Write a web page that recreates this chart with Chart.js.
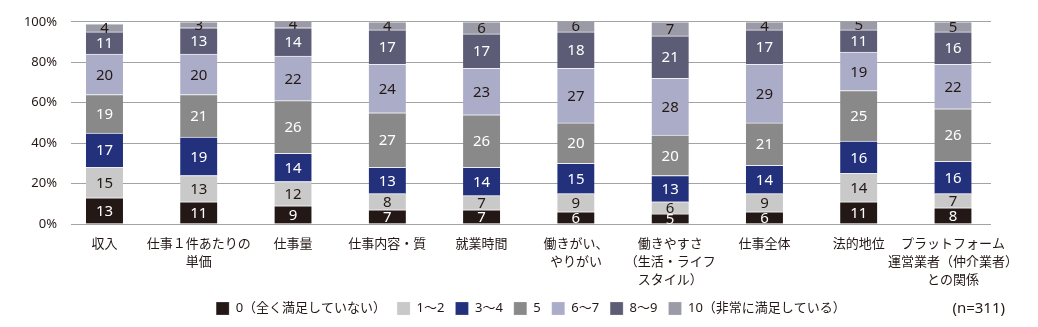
<!DOCTYPE html>
<html lang="ja">
<head>
<meta charset="utf-8">
<script src="https://cdn.jsdelivr.net/npm/chart.js@4.4.1/dist/chart.umd.min.js"></script>
<style>
  html, body { margin: 0; padding: 0; background: #fff; }
  #wrap { position: relative; width: 1038px; height: 327px; }
  #note { position: absolute; right: 33px; top: 297px; font: 15px 'Noto Sans', 'Noto Sans CJK JP', sans-serif; color: #231815; }
</style>
</head>
<body>
<div id="wrap">
  <canvas id="chart" width="1038" height="327"></canvas>
  <div id="note">(n=311)</div>
</div>
<script>
// ===== Data =====
const CATEGORIES = [
  ["収入"],
  ["仕事１件あたりの", "単価"],
  ["仕事量"],
  ["仕事内容・質"],
  ["就業時間"],
  ["働きがい、", "やりがい"],
  ["働きやすさ", "（生活・ライフ", "スタイル）"],
  ["仕事全体"],
  ["法的地位"],
  ["プラットフォーム", "運営業者（仲介業者）", "との関係"]
];
const SERIES_LABELS = ["0（全く満足していない）", "1～2", "3～4", "5", "6～7", "8～9", "10（非常に満足している）"];

// percent per satisfaction band, one array per band, in category order
const S0    = [13, 11,  9,  7,  7,  6,  5,  6, 11,  8];
const S1_2  = [15, 13, 12,  8,  7,  9,  6,  9, 14,  7];
const S3_4  = [17, 19, 14, 13, 14, 15, 13, 14, 16, 16];
const S5    = [19, 21, 26, 27, 26, 20, 20, 21, 25, 26];
const S6_7  = [20, 20, 22, 24, 23, 27, 28, 29, 19, 22];
const S8_9  = [11, 13, 14, 17, 17, 18, 21, 17, 11, 16];
const S10   = [ 4,  3,  4,  4,  6,  6,  7,  4,  5,  5];

const Y_TICKS = [0, 20, 40, 60, 80, 100];

const COLORS = ["#231815", "#c9c9ca", "#23307b", "#898989", "#abadc8", "#5c5c77", "#9b9ba8"];
const LABEL_COLORS = ["#fff", "#231815", "#fff", "#fff", "#231815", "#fff", "#231815"];

const FONT = "'Noto Sans', 'Noto Sans CJK JP', sans-serif";

// ===== Chart =====
const seriesData = [S0, S1_2, S3_4, S5, S6_7, S8_9, S10];
const datasets = seriesData.map((arr, i) => ({
  label: SERIES_LABELS[i],
  data: arr.map((v, j) => ({ x: j, y: v })),
  backgroundColor: COLORS[i],
  borderColor: "#eeeef2",
  borderWidth: { top: 1, bottom: 0, left: 0, right: 0 },
  borderSkipped: false,
  barThickness: 37,
  stack: "s"
}));

// segment values written in the middle of each segment
const segmentLabels = {
  id: "segmentLabels",
  afterDatasetsDraw(chart) {
    const { ctx, chartArea } = chart;
    ctx.save();
    ctx.beginPath();
    ctx.rect(chartArea.left, chartArea.top, chartArea.right - chartArea.left, chartArea.bottom - chartArea.top);
    ctx.clip();
    ctx.font = "15px " + FONT;
    ctx.textAlign = "center";
    ctx.textBaseline = "middle";
    chart.data.datasets.forEach((ds, i) => {
      const meta = chart.getDatasetMeta(i);
      meta.data.forEach((bar, j) => {
        const { x, y, base } = bar.getProps(["x", "y", "base"], true);
        ctx.fillStyle = LABEL_COLORS[i];
        ctx.fillText(String(ds.data[j].y), x, (y + base) / 2 + 1);
      });
    });
    ctx.restore();
  }
};

new Chart(document.getElementById("chart"), {
  type: "bar",
  data: { datasets },
  plugins: [segmentLabels],
  options: {
    responsive: false,
    animation: false,
    layout: { padding: { left: 24, right: 0, top: 20, bottom: 2 } },
    plugins: {
      legend: {
        position: "bottom",
        labels: {
          boxWidth: 13, boxHeight: 13, padding: 11,
          color: "#231815",
          font: { family: FONT, size: 13 }
        }
      },
      tooltip: { enabled: false }
    },
    scales: {
      x: {
        type: "linear",
        offset: false,
        min: -0.355, max: 9.403,
        afterBuildTicks: (axis) => { axis.ticks = CATEGORIES.map((_, i) => ({ value: i })); },
        afterFit: (axis) => { axis.height = 67; },
        grid: { display: false },
        border: { display: false },
        ticks: {
          autoSkip: false, maxRotation: 0, padding: 3,
          color: "#231815",
          font: { family: FONT, size: 13, lineHeight: 1.4 },
          callback: (v) => CATEGORIES[v]
        }
      },
      y: {
        stacked: true,
        min: 0, max: 100,
        afterBuildTicks: (axis) => { axis.ticks = Y_TICKS.map(v => ({ value: v })); },
        afterFit: (axis) => { axis.width = 47; },
        border: { display: false },
        grid: { color: "#a3a3a3", lineWidth: 1, drawTicks: false },
        ticks: {
          padding: 14,
          color: "#231815",
          font: { family: FONT, size: 13 },
          callback: (v) => v + "%"
        }
      },
      // empty right-hand margin so the legend centres under the whole figure
      yRight: {
        position: "right",
        display: true,
        afterFit: (axis) => { axis.width = 47; },
        grid: { display: false },
        border: { display: false },
        ticks: { display: false }
      }
    }
  }
});
</script>
</body>
</html>
